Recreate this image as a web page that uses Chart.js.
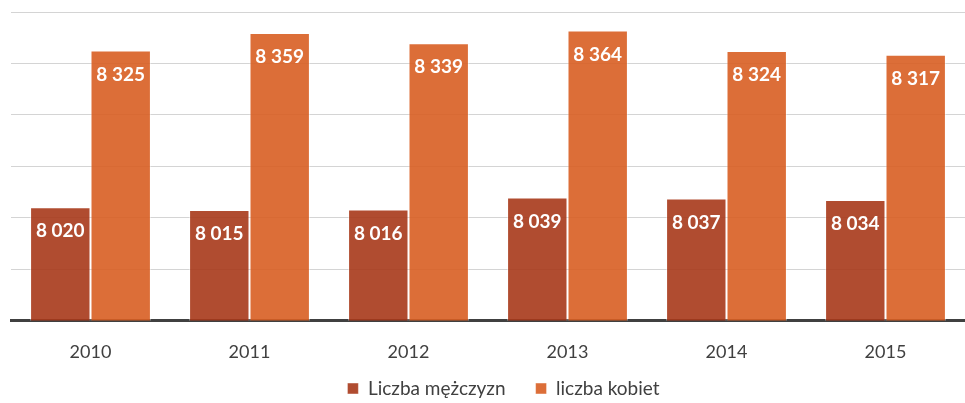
<!DOCTYPE html>
<html>
<head>
<meta charset="utf-8">
<script src="https://cdn.jsdelivr.net/npm/chart.js@4/dist/chart.umd.min.js"></script>
<style>
  html, body { margin: 0; padding: 0; background: #fff; }
  #wrap { width: 965px; height: 403px; }
</style>
</head>
<body>
<div id="wrap"><canvas id="chart" width="965" height="403"></canvas></div>
<script>
// data
const years = ['2010', '2011', '2012', '2013', '2014', '2015'];
const men = [8020, 8015, 8016, 8039, 8037, 8034];
const women = [8325, 8359, 8339, 8364, 8324, 8317];
const seriesNames = ['Liczba mężczyzn', 'liczba kobiet'];

const fmt = v => String(v).replace(/\B(?=(\d{3})+(?!\d))/g, ' ');

// white value labels inside the top of each bar
const valueLabels = {
  id: 'valueLabels',
  afterDatasetsDraw(chart) {
    const ctx = chart.ctx;
    ctx.save();
    ctx.fillStyle = '#ffffff';
    ctx.font = 'bold 19px Lato';
    ctx.textAlign = 'center';
    ctx.textBaseline = 'middle';
    chart.data.datasets.forEach((ds, i) => {
      chart.getDatasetMeta(i).data.forEach((bar, j) => {
        ctx.fillText(fmt(ds.data[j]), bar.x, bar.y + 24);
      });
    });
    ctx.restore();
  }
};

// wide gap between legend items, but a short legend box
const legendHeight = {
  id: 'legendHeight',
  beforeInit(chart) {
    const lg = chart.legend;
    const fit = lg.fit.bind(lg);
    lg.fit = function () { fit(); this.height = 27; };
    lg.draw = function () {
      if (!this.options.display) return;
      chart.ctx.save();
      chart.ctx.translate(21, -27);
      this._draw();
      chart.ctx.restore();
    };
  }
};

new Chart(document.getElementById('chart'), {
  type: 'bar',
  data: {
    labels: years,
    datasets: [
      {
        label: seriesNames[0],
        data: men,
        backgroundColor: 'rgba(167,57,26,0.9)',
        borderColor: 'rgba(255,255,255,0.45)',
        borderWidth: 1
      },
      {
        label: seriesNames[1],
        data: women,
        backgroundColor: 'rgba(216,94,34,0.9)',
        borderColor: 'rgba(255,255,255,0.45)',
        borderWidth: 1
      }
    ]
  },
  options: {
    responsive: false,
    animation: false,
    layout: { padding: { top: 12, right: 0, left: 0, bottom: 0 } },
    datasets: { bar: { barPercentage: 1.0, categoryPercentage: 0.76 } },
    plugins: {
      legend: {
        position: 'bottom',
        labels: {
          boxWidth: 11,
          boxHeight: 11,
          color: '#404040',
          font: { family: 'Lato', size: 19 },
          padding: 30
        }
      },
      tooltip: { enabled: false }
    },
    scales: {
      x: {
        grid: { display: false },
        border: { display: true, color: '#404040', width: 3 },
        ticks: { color: '#404040', font: { family: 'Lato', size: 18 }, padding: 13 }
      },
      y: {
        min: 7800,
        max: 8400,
        ticks: { display: false, stepSize: 100 },
        border: { display: false },
        grid: { color: '#d4d4d4', lineWidth: 1, drawTicks: false },
        afterFit: s => { s.width = 11; }
      }
    }
  },
  plugins: [valueLabels, legendHeight]
});
</script>
</body>
</html>
